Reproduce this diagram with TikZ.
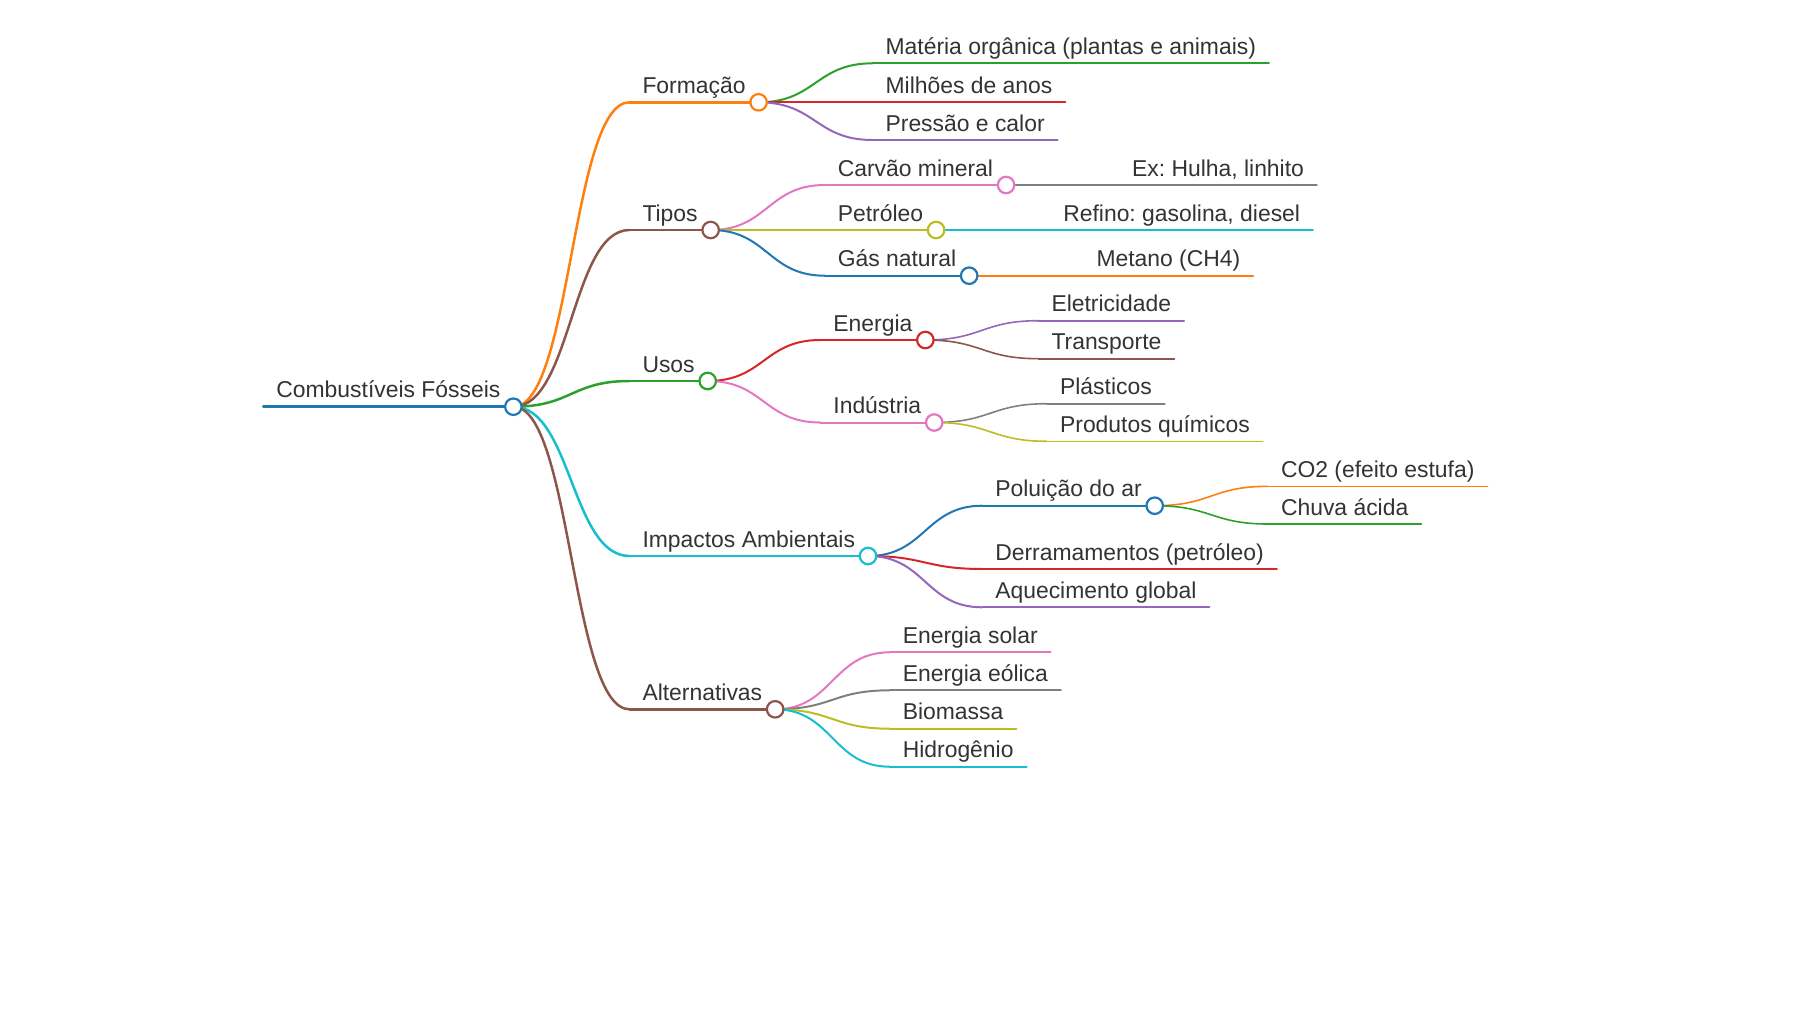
\documentclass[tikz,border=0pt]{standalone}
\usepackage{fontspec}
\setmainfont{Liberation Sans}
\usetikzlibrary{calc}
\frenchspacing
\definecolor{cBlue}{HTML}{1F77B4}
\definecolor{cOrange}{HTML}{FF7F0E}
\definecolor{cGreen}{HTML}{2CA02C}
\definecolor{cRed}{HTML}{D62728}
\definecolor{cPurple}{HTML}{9467BD}
\definecolor{cBrown}{HTML}{8C564B}
\definecolor{cPink}{HTML}{E377C2}
\definecolor{cGray}{HTML}{7F7F7F}
\definecolor{cOlive}{HTML}{BCBD22}
\definecolor{cCyan}{HTML}{17BECF}
\definecolor{txt}{HTML}{333333}
\tikzset{
  mm/.style={anchor=south west, inner xsep=13pt, inner ysep=0pt, outer sep=0pt,
    text height=17pt, text depth=9pt, text=txt,
    font=\fontsize{22.9}{27}\selectfont\frenchspacing},
  mmdot/.style={circle, fill=white, inner sep=0pt, minimum size=16.5pt, line width=2.2pt},
}
% node with underline
\newcommand\mmnode[5]{%
  \node[mm] (#1) at (#2) {#3};
  \draw[#4, line width=#5pt, line cap=round] (#1.south west) -- (#1.south east);}
% curved link parent -> child
\newcommand\mmlink[4]{%
  \draw[#3, line width=#4pt] let \p1=(#1.south east), \p2=(#2.south west) in
    (\p1) .. controls ({(\x1+\x2)/2},\y1) and ({(\x1+\x2)/2},\y2) .. (\p2);}
% circle at the end of a parent node
\newcommand\mmcirc[2]{%
  \node[mmdot, draw=#2] (#1dot) at (#1.south east) {};}
\begin{document}
\begin{tikzpicture}[x=1pt,y=-1pt]
\useasboundingbox (0,0) rectangle (1800,1012);
% depth 0
\mmnode{root}{263.4,406.7}{Combustíveis Fósseis}{cBlue}{3.2}
% depth 1
\mmnode{form}{629.5,102.3}{Formação}{cOrange}{2.5}
\mmnode{tipos}{629.5,230}{Tipos}{cBrown}{2.5}
\mmnode{usos}{629.5,381}{Usos}{cGreen}{2.5}
\mmnode{imp}{629.5,556}{Impactos Ambientais}{cCyan}{2.5}
\mmnode{alt}{629.5,709.3}{Alternativas}{cBrown}{2.5}
% depth 2
\mmnode{mat}{872.6,63.3}{Matéria orgânica (plantas e animais)}{cGreen}{2}
\mmnode{mil}{872.6,102.3}{Milhões de anos}{cRed}{2}
\mmnode{pres}{872.6,140}{Pressão e calor}{cPurple}{2}
\mmnode{carv}{824.8,185}{Carvão mineral}{cPink}{2}
\mmnode{petr}{824.8,230}{Petróleo}{cOlive}{2}
\mmnode{gas}{824.8,275.7}{Gás natural}{cBlue}{2}
\mmnode{ener}{820.4,340}{Energia}{cRed}{2}
\mmnode{ind}{820.4,422.5}{Indústria}{cPink}{2}
\mmnode{polu}{982.3,505.7}{Poluição do ar}{cBlue}{2}
\mmnode{derr}{982.3,569}{Derramamentos (petróleo)}{cRed}{2}
\mmnode{aque}{982.3,607.3}{Aquecimento global}{cPurple}{2}
\mmnode{sol}{889.8,652.3}{Energia solar}{cPink}{2}
\mmnode{eol}{889.8,690.3}{Energia eólica}{cGray}{2}
\mmnode{bio}{889.8,728.7}{Biomassa}{cOlive}{2}
\mmnode{hid}{889.8,766.7}{Hidrogênio}{cCyan}{2}
% depth 3
\mmnode{ex}{1119.1,185}{Ex: Hulha, linhito}{cGray}{1.6}
\mmnode{ref}{1050.3,230}{Refino: gasolina, diesel}{cCyan}{1.6}
\mmnode{met}{1083.5,275.7}{Metano (CH4)}{cOrange}{1.6}
\mmnode{elet}{1038.5,320.7}{Eletricidade}{cPurple}{1.6}
\mmnode{trans}{1038.5,358.7}{Transporte}{cBrown}{1.6}
\mmnode{plas}{1047.1,403.7}{Plásticos}{cGray}{1.6}
\mmnode{prod}{1047.1,441.3}{Produtos químicos}{cOlive}{1.6}
\mmnode{co2}{1268,486.3}{CO2 (efeito estufa)}{cOrange}{1.6}
\mmnode{chuva}{1268,524}{Chuva ácida}{cGreen}{1.6}
% links
\mmlink{root}{form}{cOrange}{2.5}
\mmlink{root}{tipos}{cBrown}{2.5}
\mmlink{root}{usos}{cGreen}{2.5}
\mmlink{root}{imp}{cCyan}{2.5}
\mmlink{root}{alt}{cBrown}{2.5}
\mmlink{form}{mat}{cGreen}{2}
\mmlink{form}{mil}{cRed}{2}
\mmlink{form}{pres}{cPurple}{2}
\mmlink{tipos}{carv}{cPink}{2}
\mmlink{tipos}{petr}{cOlive}{2}
\mmlink{tipos}{gas}{cBlue}{2}
\mmlink{usos}{ener}{cRed}{2}
\mmlink{usos}{ind}{cPink}{2}
\mmlink{imp}{polu}{cBlue}{2}
\mmlink{imp}{derr}{cRed}{2}
\mmlink{imp}{aque}{cPurple}{2}
\mmlink{alt}{sol}{cPink}{2}
\mmlink{alt}{eol}{cGray}{2}
\mmlink{alt}{bio}{cOlive}{2}
\mmlink{alt}{hid}{cCyan}{2}
\mmlink{carv}{ex}{cGray}{1.6}
\mmlink{petr}{ref}{cCyan}{1.6}
\mmlink{gas}{met}{cOrange}{1.6}
\mmlink{ener}{elet}{cPurple}{1.6}
\mmlink{ener}{trans}{cBrown}{1.6}
\mmlink{ind}{plas}{cGray}{1.6}
\mmlink{ind}{prod}{cOlive}{1.6}
\mmlink{polu}{co2}{cOrange}{1.6}
\mmlink{polu}{chuva}{cGreen}{1.6}
% circles on nodes that have children
\mmcirc{root}{cBlue}
\mmcirc{form}{cOrange}
\mmcirc{tipos}{cBrown}
\mmcirc{usos}{cGreen}
\mmcirc{imp}{cCyan}
\mmcirc{alt}{cBrown}
\mmcirc{carv}{cPink}
\mmcirc{petr}{cOlive}
\mmcirc{gas}{cBlue}
\mmcirc{ener}{cRed}
\mmcirc{ind}{cPink}
\mmcirc{polu}{cBlue}
\end{tikzpicture}
\end{document}
